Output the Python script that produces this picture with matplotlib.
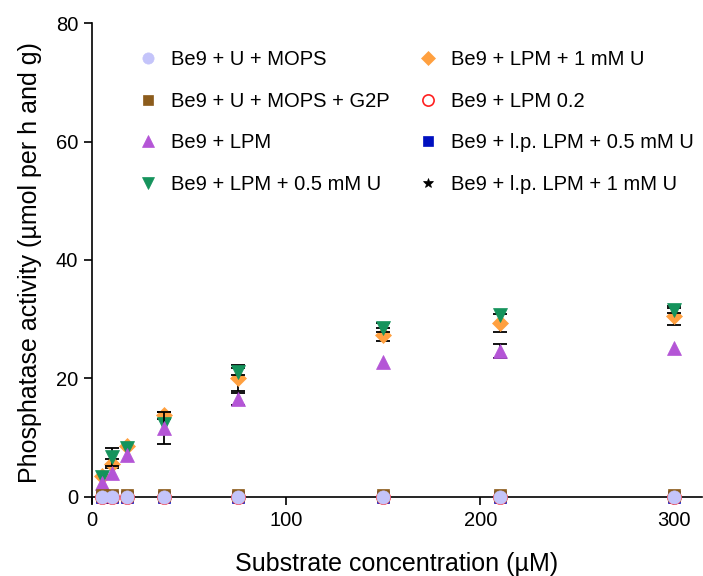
import matplotlib
matplotlib.use("Agg")
import matplotlib.pyplot as plt
import numpy as np

plt.rcParams['font.family'] = ['Liberation Sans', 'DejaVu Sans']

x = [5, 10, 18, 37, 75, 150, 210, 300]

labels = [
    "Be9 + U + MOPS",
    "Be9 + U + MOPS + G2P",
    "Be9 + LPM",
    "Be9 + LPM + 0.5 mM U",
    "Be9 + LPM + 1 mM U",
    "Be9 + LPM 0.2",
    "Be9 + l.p. LPM + 0.5 mM U",
    "Be9 + l.p. LPM + 1 mM U",
]

y_mops = [0, 0, 0, 0, 0, 0, 0, 0]
y_mops_g2p = [0.4, 0.4, 0.4, 0.4, 0.4, 0.4, 0.4, 0.4]
y_lpm = [2.4, 4.1, 7.1, 11.6, 16.5, 22.7, 24.7, 25.1]
y_lpm_05u = [3.4, 6.8, 8.3, 12.3, 21.1, 28.6, 30.7, 31.6]
y_lpm_1u = [3.6, 5.6, 8.6, 13.8, 20.1, 27.4, 29.4, 30.5]
y_lpm02 = [-0.05, -0.05, -0.05, -0.05, -0.05, -0.05, -0.05, -0.05]
y_lp_05u = [0, 0, 0, 0, 0, 0, 0, 0]
y_lp_1u = [0, 0, 0, 0, 0, 0, 0, 0]

e_zero = [0, 0, 0, 0, 0, 0, 0, 0]
e_lpm = [0, 0, 0, 2.7, 1.0, 0, 1.2, 0]
e_lpm_05u = [0, 1.5, 0, 0, 0.6, 0.8, 0, 0.6]
e_lpm_1u = [0, 0.8, 0, 0.6, 2.2, 1.1, 1.5, 1.4]

series = [
    (y_mops, e_zero, dict(marker='o', color='#c4c4fa', mec='#c4c4fa', ms=9.5)),
    (y_mops_g2p, e_zero, dict(marker='s', color='#8c5c1c', mec='#8c5c1c', ms=9)),
    (y_lpm, e_lpm, dict(marker='^', color='#b455d6', mec='#b455d6', ms=10.5)),
    (y_lpm_05u, e_lpm_05u, dict(marker='v', color='#15935c', mec='#15935c', ms=10.5)),
    (y_lpm_1u, e_lpm_1u, dict(marker='D', color='#ffa040', mec='#ffa040', ms=8)),
    (y_lpm02, e_zero, dict(marker='o', color='white', mfc='none', mec='#ff2020', ms=9.5, mew=1.2)),
    (y_lp_05u, e_zero, dict(marker='s', color='#0010c0', mec='#0010c0', ms=8)),
    (y_lp_1u, e_zero, dict(marker='*', color='black', mec='black', ms=9)),
]

fig = plt.figure(figsize=(7.03, 5.76), dpi=100)
ax = fig.add_axes([0.131, 0.127, 0.867, 0.833])

handles = []
n = len(series)
for i, ((yv, ev, st), lab) in enumerate(zip(series, labels)):
    z = 10 + 2 * (n - i)
    if any(v > 0 for v in ev):
        xe = [xi for xi, e in zip(x, ev) if e > 0]
        ye = [yi for yi, e in zip(yv, ev) if e > 0]
        ee = [e for e in ev if e > 0]
        ax.errorbar(xe, ye, yerr=ee, fmt='none', ecolor='black', elinewidth=1.3,
                    capsize=5, capthick=1.3, zorder=z - 1, clip_on=False)
    mfc = st.get('mfc', st['color'])
    h, = ax.plot(x, yv, linestyle='none', marker=st['marker'], markersize=st['ms'],
                 markerfacecolor=mfc, markeredgecolor=st['mec'],
                 markeredgewidth=st.get('mew', 0.5), zorder=z, clip_on=False,
                 label=lab)
    handles.append(h)

ax.set_xlim(0, 314)
ax.set_ylim(-1.0, 80)
ax.set_xticks([0, 100, 200, 300])
ax.set_yticks([0, 20, 40, 60, 80])
ax.spines['top'].set_visible(False)
ax.spines['right'].set_visible(False)
ax.spines['bottom'].set_position(('data', 0))
for s in ['left', 'bottom']:
    ax.spines[s].set_linewidth(1.2)
ax.tick_params(direction='out', length=6, width=1.2, labelsize=14.5, pad=4)

ax.set_xlabel("Substrate concentration (µM)", fontsize=18, labelpad=16)
ax.set_ylabel("Phosphatase activity (µmol per h and g)", fontsize=18, labelpad=10)

leg = ax.legend(handles=handles, ncol=2, frameon=False, fontsize=14.5,
                loc='upper left', bbox_to_anchor=(0.045, 0.981),
                markerscale=0.85, handlelength=1.0, handletextpad=0.65,
                columnspacing=1.4, labelspacing=1.12)

fig.savefig("out.png", dpi=100)
